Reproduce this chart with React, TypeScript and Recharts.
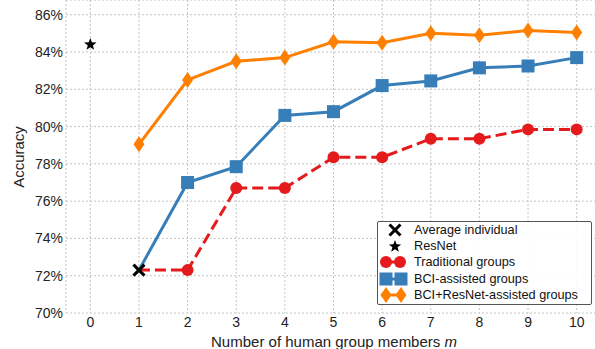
import {
  ComposedChart,
  Line,
  Scatter,
  XAxis,
  YAxis,
  CartesianGrid,
  Legend,
  Label,
} from 'recharts'

const members = [1, 2, 3, 4, 5, 6, 7, 8, 9, 10]
const traditionalGroups = [72.3, 72.3, 76.7, 76.7, 78.35, 78.35, 79.35, 79.35, 79.85, 79.85]
const bciGroups = [72.3, 77.0, 77.85, 80.6, 80.8, 82.2, 82.45, 83.15, 83.25, 83.7]
const bciResnetGroups = [79.05, 82.5, 83.5, 83.7, 84.55, 84.5, 85.0, 84.9, 85.15, 85.05]
const averageIndividual = [72.3, null, null, null, null, null, null, null, null, null]
const resnetOnly = [{ m: 0, acc: 84.4 }]
const xTicks = [0, 1, 2, 3, 4, 5, 6, 7, 8, 9, 10]
const yTicks = [70, 72, 74, 76, 78, 80, 82, 84, 86]

const RED = '#e41a1c'
const BLUE = '#377eb8'
const ORANGE = '#ff7f00'
const FONT = '"Liberation Sans", Arial, sans-serif'

const data = members.map((m, i) => ({
  m,
  traditional: traditionalGroups[i],
  bci: bciGroups[i],
  bciResnet: bciResnetGroups[i],
  avg: averageIndividual[i],
}))

const circle = (cx: number, cy: number, key?: string) => (
  <circle key={key} cx={cx} cy={cy} r={6} fill={RED} />
)
const square = (cx: number, cy: number, key?: string) => (
  <rect key={key} x={cx - 6.5} y={cy - 6.5} width={13} height={13} fill={BLUE} />
)
const diamond = (cx: number, cy: number, key?: string) => (
  <polygon
    key={key}
    points={`${cx},${cy - 8} ${cx + 5.5},${cy} ${cx},${cy + 8} ${cx - 5.5},${cy}`}
    fill={ORANGE}
  />
)
const cross = (cx: number, cy: number, key?: string) => (
  <g key={key} stroke="#000" strokeWidth={3}>
    <line x1={cx - 5.5} y1={cy - 5.5} x2={cx + 5.5} y2={cy + 5.5} />
    <line x1={cx - 5.5} y1={cy + 5.5} x2={cx + 5.5} y2={cy - 5.5} />
  </g>
)
const star = (cx: number, cy: number) => {
  const pts: string[] = []
  for (let k = 0; k < 10; k++) {
    const r = k % 2 === 0 ? 6.5 : 2.7
    const a = -Math.PI / 2 + (k * Math.PI) / 5
    pts.push(`${cx + r * Math.cos(a)},${cy + r * Math.sin(a)}`)
  }
  return <polygon points={pts.join(' ')} fill="#000" />
}

// skipFirst: the group curves start at the average individual, which carries its own marker
const dotFn =
  (draw: (cx: number, cy: number, key?: string) => any, skipFirst = false) =>
  (props: any) => {
    const { cx, cy, index, value } = props
    if (cx == null || cy == null || value == null || (skipFirst && index === 0)) return <g key={index} />
    return draw(cx, cy, `d${index}`)
  }

const legendRows = [
  { label: 'Average individual', kind: 'cross' },
  { label: 'ResNet', kind: 'star' },
  { label: 'Traditional groups', kind: 'red' },
  { label: 'BCI-assisted groups', kind: 'blue' },
  { label: 'BCI+ResNet-assisted groups', kind: 'orange' },
]

function LegendBox() {
  return (
    <div
      style={{
        border: '1px solid #555',
        borderRadius: 2,
        background: 'rgba(255,255,255,0.9)',
        padding: '0 0 1px 0',
        fontFamily: FONT,
        fontSize: 12.7,
        color: '#111',
      }}
    >
      {legendRows.map((row) => (
        <div key={row.label} style={{ display: 'flex', alignItems: 'center', height: 16.2 }}>
          <svg width={36} height={16} style={{ display: 'block' }}>
            {row.kind === 'cross' && cross(17, 8)}
            {row.kind === 'star' && star(17, 8.5)}
            {row.kind === 'red' && (
              <g>
                <line x1={3} y1={8} x2={26} y2={8} stroke={RED} strokeWidth={3} />
                {circle(8, 8)}
                {circle(22, 8)}
              </g>
            )}
            {row.kind === 'blue' && (
              <g>
                <line x1={3} y1={8} x2={26} y2={8} stroke={BLUE} strokeWidth={3} />
                {square(8, 8)}
                {square(23, 8)}
              </g>
            )}
            {row.kind === 'orange' && (
              <g>
                <line x1={3} y1={8} x2={26} y2={8} stroke={ORANGE} strokeWidth={3} />
                {diamond(8, 8)}
                {diamond(23, 8)}
              </g>
            )}
          </svg>
          <span style={{ whiteSpace: 'nowrap' }}>{row.label}</span>
        </div>
      ))}
    </div>
  )
}

export default function App() {
  return (
    <div
      style={{
        position: 'absolute',
        left: 0,
        top: 0,
        width: 595,
        height: 349,
        overflow: 'hidden',
        background: '#fff',
        fontFamily: FONT,
      }}
    >
      <ComposedChart width={601} height={349} data={data} margin={{ top: 0, right: 0, left: 0, bottom: 0 }}>
        <CartesianGrid stroke="#c4c4c4" strokeDasharray="2 2" />
        <XAxis
          type="number"
          dataKey="m"
          domain={[-0.5, 10.5]}
          ticks={xTicks}
          allowDataOverflow
          axisLine={false}
          tickLine={false}
          tickSize={0}
          tickMargin={4}
          height={36}
          tick={{ fill: '#222', fontSize: 14, fontFamily: FONT }}
        >
          <Label
            content={() => (
              <text x={334} y={347} textAnchor="middle" fill="#222" fontSize={15} fontFamily={FONT}>
                Number of human group members <tspan fontStyle="italic">m</tspan>
              </text>
            )}
          />
        </XAxis>
        <YAxis
          type="number"
          domain={[70, 86.79]}
          ticks={yTicks}
          allowDataOverflow
          axisLine={false}
          tickLine={false}
          tickSize={0}
          tickMargin={3}
          width={66}
          tickFormatter={(v) => `${v}%`}
          tick={{ fill: '#222', fontSize: 14, fontFamily: FONT }}
        >
          <Label
            content={() => (
              <text
                x={24}
                y={157}
                transform="rotate(-90, 24, 157)"
                textAnchor="middle"
                fill="#222"
                fontSize={15}
                fontFamily={FONT}
              >
                Accuracy
              </text>
            )}
          />
        </YAxis>
        <Legend
          layout="horizontal"
          verticalAlign="middle"
          align="center"
          wrapperStyle={{ left: 377, top: 221, width: 215 }}
          content={() => <LegendBox />}
        />
        <Scatter
          data={resnetOnly}
          dataKey="acc"
          shape={(p: any) => star(p.cx, p.cy)}
          isAnimationActive={false}
        />
        <Line
          dataKey="traditional"
          stroke={RED}
          strokeWidth={3}
          strokeDasharray="11 5"
          dot={dotFn(circle, true)}
          activeDot={false}
          isAnimationActive={false}
        />
        <Line
          dataKey="bci"
          stroke={BLUE}
          strokeWidth={3}
          dot={dotFn(square, true)}
          activeDot={false}
          isAnimationActive={false}
        />
        <Line
          dataKey="bciResnet"
          stroke={ORANGE}
          strokeWidth={3}
          dot={dotFn(diamond)}
          activeDot={false}
          isAnimationActive={false}
        />
        <Line
          dataKey="avg"
          stroke="none"
          dot={dotFn(cross)}
          activeDot={false}
          isAnimationActive={false}
        />
      </ComposedChart>
    </div>
  )
}
